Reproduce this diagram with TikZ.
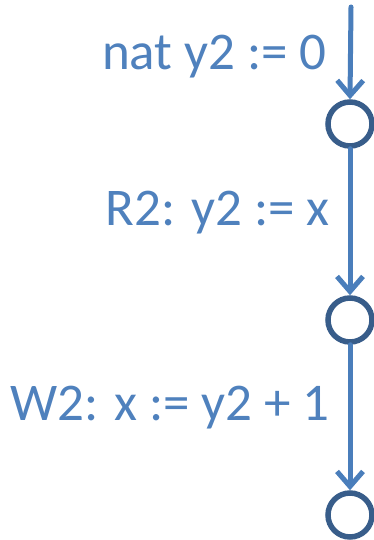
\documentclass[tikz,border=0pt]{standalone}
\usepackage{fontspec}
\setmainfont{Carlito}
\usetikzlibrary{arrows.meta}
\definecolor{txtblue}{HTML}{4F81BD}
\definecolor{arrblue}{HTML}{4A7EBB}
\definecolor{circblue}{HTML}{385D8A}
\tikzset{
  state/.style={circle, draw=circblue, line width=5.5pt, minimum size=44pt, inner sep=0pt, fill=white},
  trans/.style={draw=arrblue, line width=5pt, -{Straight Barb[length=15pt,width=26pt,line width=5pt]}, line cap=round},
  lbl/.style={text=txtblue, font=\fontsize{53}{60}\selectfont, anchor=base east, inner sep=0pt}
}
\begin{document}
\begin{tikzpicture}[x=1pt,y=-1pt]
\useasboundingbox (0,0) rectangle (374,540);
\coordinate (start) at (351,7);
\node[state] (s1) at (350,124) {};
\node[state] (s2) at (350,320) {};
\node[state] (s3) at (350,515) {};
\draw[trans] (start) -- (s1.north);
\draw[trans] (s1.south) -- (s2.north);
\draw[trans] (s2.south) -- (s3.north);
\node[lbl] (l1) at (327,70) {nat y2 := 0};
\node[lbl] (l2) at (330,225) {R2: y2 := x};
\node[lbl] (l3) at (330,420) {W2: x := y2 + 1};
\end{tikzpicture}
\end{document}
